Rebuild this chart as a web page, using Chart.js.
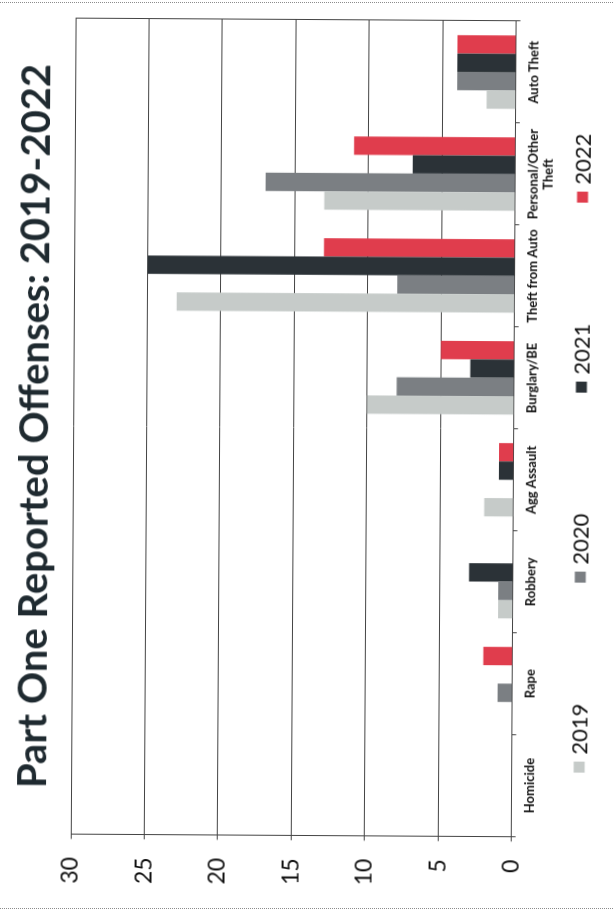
<!DOCTYPE html>
<html>
<head>
<meta charset="utf-8">
<script src="https://cdn.jsdelivr.net/npm/chart.js@4.4.0/dist/chart.umd.min.js"></script>
<style>
    html, body { margin: 0; padding: 0; background: #fff; }
    body { width: 613px; height: 915px; overflow: hidden; position: relative; }
    #frame { position: absolute; left: -2px; top: 2px; width: 617px; height: 905px;
             border-top: 1px dotted #8c8c8c; border-bottom: 1px dotted #8c8c8c; }
    /* the chart is drawn landscape and turned on its side, like the scanned page */
    #wrap { position: absolute; left: -151px; top: 151px; width: 915px; height: 613px;
            transform: rotate(-89.66deg); }
</style>
</head>
<body>
<div id="frame"></div>
<div id="wrap"><canvas id="offenseChart" width="915" height="613"></canvas></div>
<script>
const categories = ['Homicide', 'Rape', 'Robbery', 'Agg Assault', 'Burglary/BE',
    'Theft from Auto', ['Personal/Other', 'Theft'], 'Auto Theft'];
const years = ['2019', '2020', '2021', '2022'];
const counts2019 = [0, 0, 1, 2, 10, 23, 13, 2];
const counts2020 = [0, 1, 1, 0, 8, 8, 17, 4];
const counts2021 = [0, 0, 3, 1, 3, 25, 7, 4];
const counts2022 = [0, 2, 0, 1, 5, 13, 11, 4];
const valueTicks = [0, 5, 10, 15, 20, 25, 30];

const yearColors = ['#c6cbc9', '#7b7f83', '#2b3237', '#e03d4d'];
const lineColor = '#444';

Chart.defaults.font.family = 'Lato, "Open Sans", sans-serif';
Chart.defaults.color = '#111';

// legend with wide gaps between the entries, drawn under the axis labels
const spacedLegend = {
    id: 'spacedLegend',
    afterDraw(chart) {
        const ctx = chart.ctx;
        const sets = chart.data.datasets;
        const step = 190;
        const box = 11;
        const gap = 7;
        const cy = chart.height - 32;
        ctx.save();
        ctx.font = '22px Lato, "Open Sans", sans-serif';
        ctx.textBaseline = 'middle';
        sets.forEach((ds, i) => {
            const w = box + gap + ctx.measureText(ds.label).width;
            const cx = chart.width / 2 + 6 + (i - (sets.length - 1) / 2) * step;
            const x = cx - w / 2;
            ctx.fillStyle = ds.backgroundColor;
            ctx.fillRect(x, cy - box / 2, box, box);
            ctx.fillStyle = '#111';
            ctx.fillText(ds.label, x + box + gap, cy + 1);
        });
        ctx.restore();
    }
};

const seriesData = [counts2019, counts2020, counts2021, counts2022];

new Chart(document.getElementById('offenseChart'), {
    type: 'bar',
    data: {
        labels: categories,
        datasets: years.map((yr, i) => ({
            label: yr,
            data: seriesData[i],
            backgroundColor: yearColors[i],
            borderWidth: 0,
            barPercentage: 1.0,
            categoryPercentage: 0.72
        }))
    },
    options: {
        responsive: false,
        animation: false,
        layout: { padding: { left: 12, right: 20, top: 0, bottom: 52 } },
        scales: {
            x: {
                grid: {
                    // only the right edge of the plot gets a line
                    color: c => c.type === 'scale' ? lineColor : 'rgba(0,0,0,0)',
                    tickColor: lineColor,
                    tickLength: 4
                },
                border: { color: lineColor },
                ticks: {
                    padding: 6,
                    maxRotation: 0,
                    autoSkip: false,
                    font: { size: 13, weight: 'bold' }
                }
            },
            y: {
                min: 0,
                max: 30,
                afterBuildTicks: scale => { scale.ticks = valueTicks.map(v => ({ value: v })); },
                grid: { color: lineColor, tickColor: lineColor, tickLength: 5 },
                border: { color: lineColor },
                ticks: { padding: 18, font: { size: 23 } }
            }
        },
        plugins: {
            legend: { display: false },
            tooltip: { enabled: false },
            title: {
                display: true,
                text: 'Part One Reported Offenses: 2019-2022',
                fullSize: false,
                color: '#1f2a30',
                font: { size: 40, weight: 'bold' },
                padding: { top: 11, bottom: 14 }
            }
        }
    },
    plugins: [spacedLegend]
});
</script>
</body>
</html>
